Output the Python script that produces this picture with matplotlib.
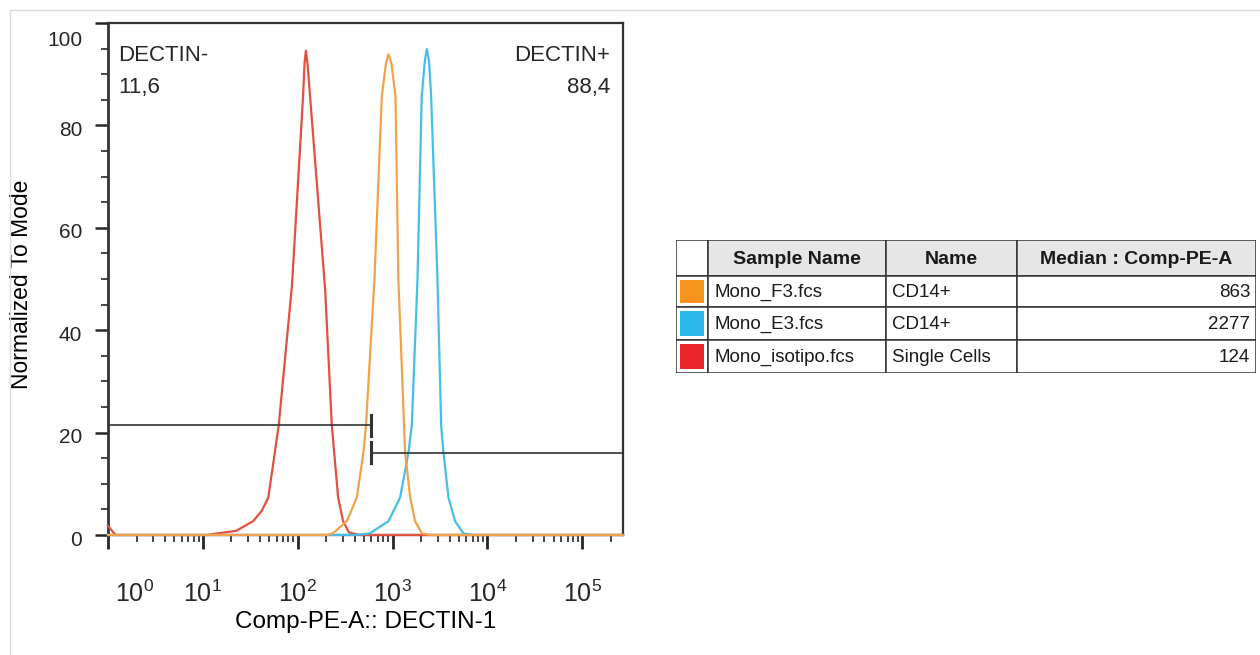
import matplotlib.pyplot as plt
from matplotlib.patches import Rectangle
from matplotlib.lines import Line2D
from matplotlib.ticker import LogLocator, MultipleLocator, NullFormatter
from matplotlib.transforms import ScaledTranslation

plt.rcParams['font.family'] = ['Liberation Sans', 'DejaVu Sans']
plt.rcParams['text.color'] = '#262626'
plt.rcParams['xtick.color'] = '#262626'
plt.rcParams['ytick.color'] = '#262626'

# histogram outlines: Comp-PE-A intensity vs % of mode
red_x = [1, 1.2, 11.2, 14.1, 22.4, 33.9, 41.7, 49.0, 63.1, 87.1, 114, 118, 122, 127, 135, 195, 229, 267, 301, 347, 447, 269000]
red_y = [1.8, 0, 0, 0.3, 0.8, 2.7, 4.7, 7.3, 21.4, 48.8, 85.7, 92, 94.6, 92, 85.7, 47.8, 21.4, 7.3, 2.7, 0.5, 0, 0]

orange_x = [1, 200, 234, 330, 420, 493, 525, 644, 771, 851, 906, 977, 1074, 1153, 1324, 1358, 1535, 1730, 2042, 2512, 269000]
orange_y = [0, 0, 0.3, 2.7, 7.3, 16.1, 21.4, 49.8, 85.7, 92, 93.9, 92, 85.7, 49.8, 21.4, 16.1, 7.3, 2.7, 0.3, 0, 0]

blue_x = [1, 398, 575, 906, 1202, 1472, 1596, 1832, 2032, 2188, 2296, 2427, 2553, 2979, 3258, 3443, 3890, 4571, 5598, 7079, 269000]
blue_y = [0, 0, 0.3, 2.7, 7.3, 16.1, 21.4, 49.8, 85.7, 92.5, 94.9, 92.5, 85.7, 49.8, 21.4, 16.1, 7.3, 2.7, 0.3, 0, 0]

# gates
gate_split = 595
gate_neg = (1, gate_split, 21.4)
gate_pos = (gate_split, 269000, 16.1)
gate_labels = ['DECTIN-', 'DECTIN+']
gate_pcts = ['11,6', '88,4']

# table
sample_names = ['Mono_F3.fcs', 'Mono_E3.fcs', 'Mono_isotipo.fcs']
pop_names = ['CD14+', 'CD14+', 'Single Cells']
medians = [863, 2277, 124]
swatch_colors = ['#f7941d', '#2bb7e8', '#e8262c']
headers = ['', 'Sample Name', 'Name', 'Median : Comp-PE-A']

RED = '#e2513f'
ORANGE = '#f2a24a'
BLUE = '#45bfe9'
DARK = '#333333'

fig = plt.figure(figsize=(12.6, 6.55), dpi=100)

# faint frame of the screenshot
fig.add_artist(Line2D([10/1260, 1], [1 - 10/655, 1 - 10/655], color='#dcdcdc', lw=1))
fig.add_artist(Line2D([10/1260, 10/1260], [0, 1 - 10/655], color='#dcdcdc', lw=1))

ax = fig.add_axes([108/1260, 1 - 535/655, 515/1260, 512/655])
ax.plot(red_x, red_y, color=RED, lw=1.6, clip_on=False, zorder=3)
ax.plot(blue_x, blue_y, color=BLUE, lw=1.6, clip_on=False, zorder=3)
ax.plot(orange_x, orange_y, color=ORANGE, lw=1.6, clip_on=False, zorder=4)

ax.set_xscale('log')
ax.set_xlim(1, 10**5.43)
ax.set_ylim(0, 100)

# gates
ax.plot([gate_neg[0], gate_neg[1]], [gate_neg[2], gate_neg[2]], color=DARK, lw=1.2, zorder=5)
ax.plot([gate_neg[1], gate_neg[1]], [gate_neg[2] - 2, gate_neg[2] + 2], color=DARK, lw=2.2, zorder=5)
ax.plot([gate_pos[0], gate_pos[1]], [gate_pos[2], gate_pos[2]], color=DARK, lw=1.2, zorder=5)
ax.plot([gate_pos[0], gate_pos[0]], [gate_pos[2] - 2, gate_pos[2] + 2], color=DARK, lw=2.2, zorder=5)

ax.text(0.019, 0.958, gate_labels[0], transform=ax.transAxes, ha='left', va='top', fontsize=16)
ax.text(0.019, 0.894, gate_pcts[0], transform=ax.transAxes, ha='left', va='top', fontsize=16)
ax.text(0.975, 0.958, gate_labels[1], transform=ax.transAxes, ha='right', va='top', fontsize=16)
ax.text(0.975, 0.894, gate_pcts[1], transform=ax.transAxes, ha='right', va='top', fontsize=16)

for s in ax.spines.values():
    s.set_color(DARK)
    s.set_linewidth(1.6)
ax.spines['left'].set_linewidth(2)

ax.set_yticks([0, 20, 40, 60, 80, 100])
ax.yaxis.set_minor_locator(MultipleLocator(5))
ax.tick_params(axis='y', which='major', length=9.5, width=1.8, labelsize=15, pad=9)
ax.tick_params(axis='y', which='minor', length=5, width=1.2)

ax.set_xticks([10**e for e in range(6)])
ax.set_xticklabels([r'$\mathregular{10^{%d}}$' % e for e in range(6)])
ax.xaxis.set_minor_locator(LogLocator(base=10, subs=range(2, 10), numticks=20))
ax.xaxis.set_minor_formatter(NullFormatter())
ax.tick_params(axis='x', which='major', length=10, width=2, labelsize=18, pad=23)
ax.tick_params(axis='x', which='minor', length=5, width=1.2)

# FlowJo-like label nudges
for lab in ax.get_yticklabels():
    lab.set_transform(lab.get_transform() + ScaledTranslation(0, -0.03, fig.dpi_scale_trans))
top_lab = ax.get_yticklabels()[-1]
top_lab.set_transform(top_lab.get_transform() + ScaledTranslation(0, -0.13, fig.dpi_scale_trans))
first = ax.get_xticklabels()[0]
first.set_transform(first.get_transform() + ScaledTranslation(0.27, 0, fig.dpi_scale_trans))

ax.set_xlabel('Comp-PE-A:: DECTIN-1', fontsize=17.5)
ax.xaxis.set_label_coords(0.5, -0.17)
ax.xaxis.label.set_va('center')
ax.set_ylabel('Normalized To Mode', fontsize=16.5)
ax.yaxis.set_label_coords(-0.167, 0.49)
ax.yaxis.label.set_va('center')

# statistics table
tax = fig.add_axes([676/1260, 1 - 373/655, 580/1260, 133/655])
col_w = [32, 178, 131, 239]
row_h = [36, 31, 33, 33]
tax.set_xlim(0, sum(col_w))
tax.set_ylim(sum(row_h), 0)
tax.axis('off')

col_x = [sum(col_w[:i]) for i in range(len(col_w))]
row_y = [sum(row_h[:i]) for i in range(len(row_h))]

for j, h in enumerate(headers):
    face = 'white' if j == 0 else '#e6e6e6'
    tax.add_patch(Rectangle((col_x[j], row_y[0]), col_w[j], row_h[0], facecolor=face,
                            edgecolor=DARK, lw=1.1))
    if h:
        tax.text(col_x[j] + col_w[j] / 2, row_y[0] + row_h[0] / 2 + 1, h, ha='center', va='center',
                 fontsize=14, fontweight='bold', color='#1a1a1a')

for i in range(len(sample_names)):
    r = i + 1
    y0 = row_y[r]
    for j in range(len(col_w)):
        tax.add_patch(Rectangle((col_x[j], y0), col_w[j], row_h[r], facecolor='white',
                                edgecolor=DARK, lw=1.1))
    tax.add_patch(Rectangle((col_x[0] + 4, y0 + 4), col_w[0] - 8, row_h[r] - 8,
                            facecolor=swatch_colors[i], edgecolor='none'))
    yc = y0 + row_h[r] / 2 + 1
    tax.text(col_x[1] + 6, yc, sample_names[i], ha='left', va='center', fontsize=13.5, color='#1a1a1a')
    tax.text(col_x[2] + 6, yc, pop_names[i], ha='left', va='center', fontsize=13.5, color='#1a1a1a')
    tax.text(col_x[3] + col_w[3] - 6, yc, str(medians[i]), ha='right', va='center', fontsize=13.5,
             color='#1a1a1a')

fig.savefig('out.png', dpi=100)
